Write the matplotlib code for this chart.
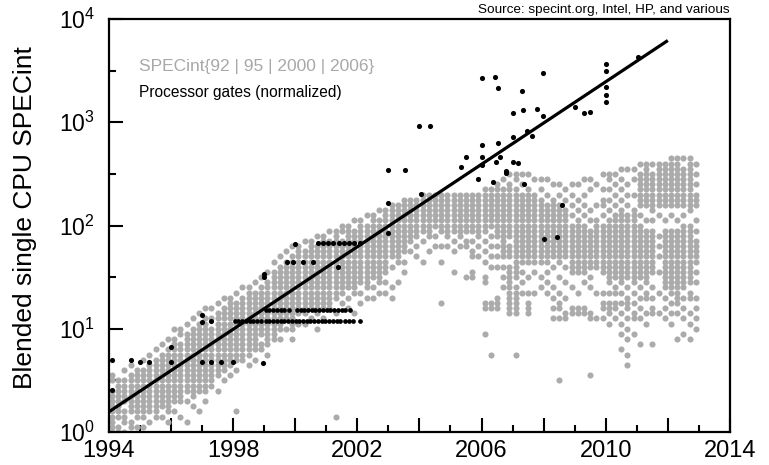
import matplotlib
matplotlib.use("Agg")
import matplotlib.pyplot as plt
from matplotlib.ticker import FixedLocator, NullFormatter, FixedFormatter, FuncFormatter

plt.rcParams['font.family'] = ['Liberation Sans', 'DejaVu Sans']
plt.rcParams['mathtext.default'] = 'regular'

# ---------------- data ----------------
x_label_years = [1994, 1998, 2002, 2006, 2010, 2014]
y_tick_exponents = [0, 1, 2, 3, 4]

trend_years = [1994.0, 2012.0]
trend_values = [1.57, 6200.0]

gate_years = [
    1994.1, 1994.1, 1994.7, 1995.0, 1995.3, 1996.0, 1996.0, 1997.0, 1997.0, 1997.0,
    1997.3, 1997.3, 1997.6, 1998.0, 1998.96,
    1999.0, 1999.0, 1999.73, 1999.93, 2000.25, 2000.57, 2000.0,
    2000.73, 2000.9, 2001.07, 2001.23, 2001.4, 2001.56, 2001.73, 2001.9, 2002.07,
    2001.37,
    2003.0, 2003.0, 2003.0, 2003.55, 2004.0, 2004.34, 2004.05,
    2005.33, 2005.49, 2005.9, 2006.0, 2006.0, 2006.0, 2006.0,
    2006.38, 2006.43, 2006.46, 2006.54, 2006.54, 2006.6, 2006.79, 2006.79,
    2007.0, 2007.0, 2007.0, 2007.17, 2007.29, 2007.32, 2007.37, 2007.46, 2007.63,
    2007.8, 2007.99, 2007.99,
    2008.0, 2008.42, 2008.6, 2009.0, 2009.3, 2009.5,
    2010.0, 2010.0, 2010.0, 2010.0, 2010.0, 2011.04,
]
gate_values = [
    5.0, 2.55, 5.0, 4.8, 4.8, 4.8, 6.7, 4.8, 13.6, 11.5,
    4.8, 11.8, 4.8, 4.8, 4.7,
    34, 32, 44, 44, 44, 44, 66,
    67, 67, 67, 67, 67, 67, 67, 67, 67,
    40,
    85, 165, 345, 345, 926, 926, 200,
    370, 464, 280, 2700, 600, 457, 386,
    262, 2760, 410, 625, 2130, 460, 340, 322,
    1220, 724, 415, 405, 2000, 1310, 250, 822, 736,
    1340, 2980, 1150,
    74, 77, 158, 1420, 1220, 1250,
    3640, 3150, 2180, 1820, 1590, 4270,
]

# two horizontal runs of processor-gate points
gate_row_a_years = [1999.05, 1999.17, 1999.29, 1999.41, 1999.53, 1999.65, 1999.8,
                    2000.05, 2000.17, 2000.29, 2000.41, 2000.53, 2000.65, 2000.77,
                    2000.89, 2001.01, 2001.13, 2001.25, 2001.37, 2001.49, 2001.61, 2001.75]
gate_row_a_value = 15.3
gate_row_b_years = [1998.05, 1998.17, 1998.29, 1998.41, 1998.53, 1998.65, 1998.77, 1998.9,
                    1999.05, 1999.17, 1999.29, 1999.41, 1999.53, 1999.65, 1999.77, 1999.89,
                    2000.01, 2000.13, 2000.25, 2000.37, 2000.49, 2000.61, 2000.73, 2000.85,
                    2000.97, 2001.09, 2001.21, 2001.33, 2001.45, 2001.6, 2001.72, 2001.87,
                    2002.08]
gate_row_b_value = 11.9

# SPECint results (grey cloud) on a grid:
# one string per year column (1994.1, 1994.3, ... every 0.2 yr);
# characters top->bottom are log10(SPECint) levels 2.70, 2.65, ... 0.00 ('#' = point)
grey_first_year = 1994.1
grey_year_step = 0.2
grey_top_log10 = 2.7
grey_log10_step = 0.05
grey_columns = [
    "..... ..... ..... ..... ..... ..... ..... ..... ...## .#### #####",  # 1994.1
    "..... ..... ..... ..... ..... ..... ..... ..... ....# ##### ##.##",
    "..... ..... ..... ..... ..... ..... ..... ..... ..#.# ####. ###.#",
    "..... ..... ..... ..... ..... ..... ..... ..... .#.## ##### #.##.",
    "..... ..... ..... ..... ..... ..... ..... ..... ..### ##### ##.#.",
    "..... ..... ..... ..... ..... ..... ..... ..... #.### ##### ##.#.",  # 1995.1
    "..... ..... ..... ..... ..... ..... ..... ....# .#### ##### #.#..",
    "..... ..... ..... ..... ..... ..... ..... ...#. ##### ##### ##...",
    "..... ..... ..... ..... ..... ..... ..... ..#.# ##### ##### .#...",
    "..... ..... ..... ..... ..... ..... ..... .#.## ##### ##### #.#..",
    "..... ..... ..... ..... ..... ..... ....# .#### ##### ####. #....",  # 1996.1
    "..... ..... ..... ..... ..... ..... ....# #.### ##### ####. .#...",
    "..... ..... ..... ..... ..... ..... ...#. ##### ##### ##.#. ..#..",
    "..... ..... ..... ..... ..... ..... ..#.# ##### ##### ###.# .....",
    "..... ..... ..... ..... ..... ..... .#.## ##### ##### ##... #....",
    "..... ..... ..... ..... ..... ..... #.### ##### ##### ##.#. .....",  # 1997.1
    "..... ..... ..... ..... ..... ..... #.#.# ##### ##### #.... .....",
    "..... ..... ..... ..... ..... ....# .#### ##### ####. .#... .....",
    "..... ..... ..... ..... ..... ...#. ##### ##### ###.# ..... .....",
    "..... ..... ..... ..... ..... ...## ##### ##### ##.#. ..... .....",
    "..... ..... ..... ..... ..... ..#.# ##### ##### #.#.. ..... #....",  # 1998.1
    "..... ..... ..... ..... ..... .#.## ##### ##### #.... ..... .....",
    "..... ..... ..... ..... ..... .#### ##### ##### .#... ..... .....",
    "..... ..... ..... ..... ..... #.### ##### ####. #.... ..... .....",
    "..... ..... ..... ..... ....# .#### ##### #.##. ..... ..... .....",
    "..... ..... ..... ..... ...#. ##### ##### ###.# ..... ..... .....",  # 1999.1
    "..... ..... ..... ..... .#.## ##### ##### ##... ..... ..... .....",
    "..... ..... ..... ..... #.### ##### ##### .#... ..... ..... .....",
    "..... ..... ..... ....# .#### ##### ###.# ..... ..... ..... .....",
    "..... ..... ..... ...#. ##### ##### ##### .#... ..... ..... .....",
    "..... ..... ..... ...## ##### ##### ##.#. ..... ..... ..... .....",  # 2000.1
    "..... ..... ..... ..#.# ##### ##### ##.#. ..... ..... ..... .....",
    "..... ..... ..... ..### ##### ##### #.#.. ..... ..... ..... .....",
    "..... ..... ..... .#.## ##### ##### ##..# ..... ..... ..... .....",
    "..... ..... ..... .#### ##### ##### #.#.. ..... ..... ..... .....",
    "..... ..... ..... #.### ##### ##### #.... ..... ..... ..... .....",  # 2001.1
    "..... ..... ..... ##### ##### ####. .#... ..... ..... ..... .#...",
    "..... ..... ....# #.### ##### ###.# ..... ..... ..... ..... .....",
    "..... ..... ....# ##### ##### ##.#. #.... ..... ..... ..... .....",
    "..... ..... ...#. ##### ##### ###.. .#... ..... ..... ..... .....",
    "..... ..... ...## ##### ##### #.#.# ..... ..... ..... ..... .....",  # 2002.1
    "..... ..... ..#.# ##### ##### ##.#. ..... ..... ..... ..... .....",
    "..... ..... ..### ##### ##### .#.#. ..... ..... ..... ..... .....",
    "..... ..... .#.## ##### ##### #.#.. ..... ..... ..... ..... .....",
    "..... ..... .#### ##### ####. #.#.. ..... ..... ..... ..... .....",
    "..... ..... ##### ##### #.#.. .#.#. ..... ..... ..... ..... .....",  # 2003.1
    "..... ..... ##### ##### ##... #.... ..... ..... ..... ..... .....",
    "..... ....# ##### ##### .#.#. ..... ..... ..... ..... ..... .....",
    "..... ....# ##### ###.# ..... ..... ..... ..... ..... ..... .....",
    "..... ....# ##### ##.#. #.... ..... ..... ..... ..... ..... .....",
    "..... ...## ##### #.#.. .#... ..... ..... ..... ..... ..... .....",  # 2004.1
    "..... ...## ##### ##..# ..... ..... ..... ..... ..... ..... .....",
    "..... ...## ##### .#.#. ..... ..... ..... ..... ..... ..... .....",
    "..... ...## ##### #..#. .#... ....# ..... ..... ..... ..... .....",
    "..... ...## ##### ##.#. ..... ..... ..... ..... ..... ..... .....",
    "..... ...## ##### #.#.# ...#. ..... ..... ..... ..... ..... .....",  # 2005.1
    "..... ...## ##### ##.#. ..... ..... ..... ..... ..... ..... .....",
    "..... ...## ##### #.##. ....# ..... ..... ..... ..... ..... .....",
    "..... ...## ##### #.#.# #..## ..... ..... ..... ..... ..... .....",
    "..... ...## ##### ##.#. #.... ..... ..... ..... ..... ..... .....",
    "..... ..### ##### #.#.# .#..# #...# #.... #.... ..... ..... .....",  # 2006.1
    "..... ..### ##### .#.#. #.#.. ....# #.... ....# ..... ..... .....",
    "..... .#### ##### ##.#. #.#.. ...## #.... ..... ..... ..... .....",
    "..... #.### ##### ##### #.#.# .#... ..... ..... ..... ..... .....",
    "....# .#### ##### ##.## #.### ##### ##... ..... ..... ..... .....",
    "....# #.### ##### ##### ##### .#### ##... ....# ..... ..... .....",  # 2007.1
    "....# .#.## ##### ##### ##.#. #.#.. ..... ..... ..... ..... .....",
    "....# ..### ##### ##### ##..# ..#.# ##... ..... ..... ..... .....",
    "..... #..## ##### ##### ##.#. ..#.. ..... ..... ..... ..... .....",
    "..... #.#.# ##### ##### ##..# .#... ..... ..... ..... ..... .....",
    "..... #..#. ##### ##### ##.#. #.#.. ..... ..... ..... ..... .....",  # 2008.1
    "..... .#..# ##### ##### #.#.. .#.#. #.#.. ..... ..... ..... .....",
    "..... .#.#. ##### ##### ##..# ..#.# #.#.. ..... ....# ..... .....",
    "..... ..#.# .#### ##### #.#.. #..#. .##.. ..... ..... ..... .....",
    "..... .#.#. #.#.# ##### ####. .#... ##... ..... ..... ..... .....",
    "..... .#..# .#.## ##### ####. ..#.. ##... ..... ..... ..... .....",  # 2009.1
    "..... #..#. #.#.# ##### ####. #.... ##... ..... ..... ..... .....",
    "..... #.#.. .#.#. ##### ###.# .#... .##.. ..... ...#. ..... .....",
    "..... .#... #..## ##### ###.. ..#.. ..#.. ..... ..... ..... .....",
    "....# ..#.# #.#.# ##### ####. ..#.# #.#.. ..... ..... ..... .....",
    "....# #.#.# .#.## ##### ##### #.#.# ##.#. ..... ..... ..... .....",  # 2010.1
    "....# .#.#. #.### ##### ##### .##.# #.#.. ..... ..... ..... .....",
    "...#. #.#.# .#### ##### ##### #.#.# .#.#. #..#. ..... ..... .....",
    "...#. .#.#. #.### ##### ##### .#.## #.#.# .#..# .#... ..... .....",
    "...#. #..#. .#### ##### ##### #.#.# .##.. #.... ..... ..... .....",
    "..#.# ##### #.#.# ##### ##### .#.#. #.#.. ..#.. ..... ..... .....",  # 2011.1
    "..### ##### #..#. ##### ##### #.##. .#.#. ..... ..... ..... .....",
    "..#.# ##### ##.#. ##### ####. .#.#. ##... ..#.. ..... ..... .....",
    "..### ##### #.#.. .#.#. #..#. ..#.. .#... ..... ..... ..... .....",
    "..### ##### #..#. ##### ##### ##.#. #.#.. ..... ..... ..... .....",
    ".#### ##### #.#.. ##### ##### ###.# .#.#. ..... ..... ..... .....",  # 2012.1
    ".#### ##### #..#. ##### ##### ##### .#... .#... ..... ..... .....",
    ".#.## ##### #.#.# ##### ##### ##.#. #.#.. #.... ..... ..... .....",
    ".#### ##### ##..# ##### ##### #.##. .#.#. .#... ..... ..... .....",
    "..#.# .#.## #..#. #.### ##.#. #..#. #.#.# ..... ..... ..... .....",  # 2012.9
]

grey_years = []
grey_values = []
for i, column in enumerate(grey_columns):
    for g, group in enumerate(column.split()):
        for k, ch in enumerate(group):
            if ch == '#':
                grey_years.append(round(grey_first_year + grey_year_step * i, 2))
                grey_values.append(10 ** (grey_top_log10 - grey_log10_step * (5 * g + k)))

# ---------------- figure ----------------
fig = plt.figure(figsize=(7.69, 4.65), dpi=100)
ax = fig.add_axes([0.1417, 0.071, 0.8075, 0.888])
ax.set_yscale('log')
ax.set_xlim(1994, 2014)
ax.set_ylim(1, 1e4)

ax.plot(grey_years, grey_values, linestyle='none', marker='o', ms=4.4,
        mfc='#ababab', mec='none', zorder=2)
ax.plot(trend_years, trend_values, color='black', lw=2.3, zorder=3,
        solid_capstyle='butt')
ax.plot(gate_years, gate_values, linestyle='none', marker='o', ms=3.7,
        mfc='black', mec='none', zorder=4)
ax.plot(gate_row_a_years, [gate_row_a_value] * len(gate_row_a_years),
        linestyle='none', marker='o', ms=3.4, mfc='black', mec='none', zorder=4)
ax.plot(gate_row_b_years, [gate_row_b_value] * len(gate_row_b_years),
        linestyle='none', marker='o', ms=3.4, mfc='black', mec='none', zorder=4)

# ticks
ax.xaxis.set_major_locator(FixedLocator(list(range(1994, 2015, 2))))
ax.xaxis.set_minor_locator(FixedLocator(list(range(1995, 2014, 2))))
ax.xaxis.set_major_formatter(FuncFormatter(
    lambda v, p: str(int(round(v))) if int(round(v)) in x_label_years else ''))
ax.yaxis.set_major_locator(FixedLocator([10.0 ** e for e in y_tick_exponents]))
ax.yaxis.set_major_formatter(FixedFormatter(['$10^{%d}$' % e for e in y_tick_exponents]))
ax.yaxis.set_minor_locator(FixedLocator([10.0 ** (e + 0.5) for e in y_tick_exponents[:-1]]))
ax.yaxis.set_minor_formatter(NullFormatter())

ax.tick_params(which='major', direction='in', length=10, width=1.5,
               labelsize=17, top=False, right=False)
ax.tick_params(axis='x', which='major', pad=6)
ax.tick_params(axis='y', which='major', pad=10, labelsize=16.5)
ax.tick_params(which='minor', direction='in', length=5, width=1.5,
               top=False, right=False)
for s in ax.spines.values():
    s.set_linewidth(1.6)

ax.set_ylabel('Blended single CPU SPECint', fontsize=19)
ax.yaxis.set_label_coords(-0.116, 0.519)

ax.text(0.0483, 0.886, 'SPECint{92 | 95 | 2000 | 2006}', transform=ax.transAxes,
        ha='left', va='center', fontsize=12.5, color='#a8a8a8')
ax.text(0.0483, 0.821, 'Processor gates (normalized)', transform=ax.transAxes,
        ha='left', va='center', fontsize=11.2, color='black')
fig.text(0.9493, 0.978, 'Source: specint.org, Intel, HP, and various',
         ha='right', va='center', fontsize=9.7, color='black')

fig.savefig('out.png', dpi=100)
